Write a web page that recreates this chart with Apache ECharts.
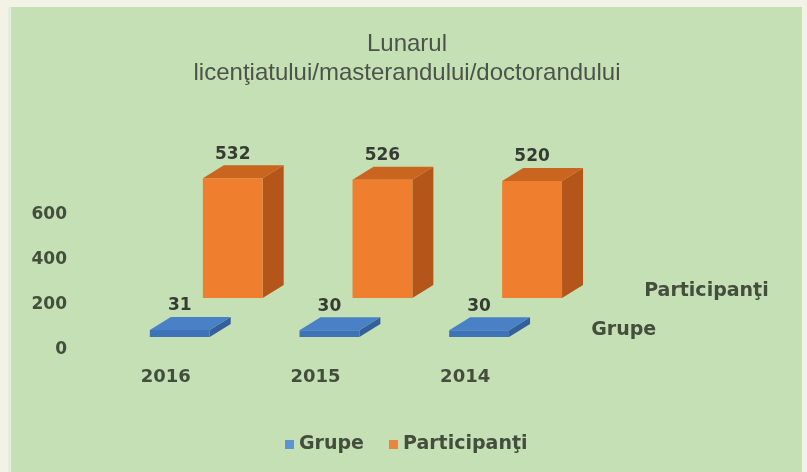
<!DOCTYPE html>
<html>
<head>
<meta charset="utf-8">
<style>
  html, body { margin: 0; padding: 0; background: #f2f3e6; }
  #chart { width: 807px; height: 472px; }
</style>
<script src="https://cdn.jsdelivr.net/npm/echarts@6/dist/echarts.min.js"></script>
</head>
<body>
<div id="chart"></div>
<script>
// Chart data
const titleLines = ['Lunarul', 'licenţiatului/masterandului/doctorandului'];
const years = ['2016', '2015', '2014'];
const seriesNames = ['Grupe', 'Participanţi'];
const grupe = [31, 30, 30];
const participanti = [532, 526, 520];
const valueTicks = { min: 0, max: 600, interval: 200 };

// Visual settings for the pseudo-3D columns
const BOLD_FONT = '"DejaVu Sans", sans-serif';
const TEXT_COLOR = '#434e3d';
const DEPTH_DX = 21;   // oblique depth of each box
const DEPTH_DY = -13;
const rows = [
  { offX: -16, offY: -13, front: '#3f73b8', top: '#4a80c6', side: '#335f9a', legend: '#5b93d3' },
  { offX: 37, offY: -52, front: '#ef7e2e', top: '#c9651f', side: '#b4561a', legend: '#e9863c' }
];

function makeRender(rowIdx, name) {
  const st = rows[rowIdx];
  return function (params, api) {
    const idx = api.value(0);
    const base = api.coord([idx, 0]);
    const top = api.coord([idx, api.value(1)]);
    const band = api.size([1, 0])[0];
    const w = band * 0.4;
    const h = base[1] - top[1];
    const left = base[0] + st.offX;
    const by = base[1] + st.offY;
    const ty = by - h;
    const children = [
      { type: 'polygon', shape: { points: [[left + w, by], [left + w, ty], [left + w + DEPTH_DX, ty + DEPTH_DY], [left + w + DEPTH_DX, by + DEPTH_DY]] }, style: { fill: st.side } },
      { type: 'polygon', shape: { points: [[left, ty], [left + w, ty], [left + w + DEPTH_DX, ty + DEPTH_DY], [left + DEPTH_DX, ty + DEPTH_DY]] }, style: { fill: st.top } },
      { type: 'rect', shape: { x: left, y: ty, width: w, height: Math.max(h, 0.5) }, style: { fill: st.front } },
      { type: 'text', x: left + w / 2, y: ty + DEPTH_DY - 11, style: { text: String(api.value(1)), fill: '#363c33', font: 'bold 17px ' + BOLD_FONT, align: 'center', verticalAlign: 'middle' } }
    ];
    if (params.dataIndex === years.length - 1) {
      children.push({ type: 'text', x: left + 142, y: by - 7, style: { text: name, fill: TEXT_COLOR, font: 'bold 19px ' + BOLD_FONT, align: 'left', verticalAlign: 'middle' } });
    }
    return { type: 'group', children: children };
  };
}

const chart = echarts.init(document.getElementById('chart'));
chart.setOption({
  backgroundColor: '#f2f3e6',
  animation: false,
  graphic: [
    { type: 'rect', left: 8, top: 7, shape: { width: 794, height: 465 }, style: { fill: '#c6e0b5' }, z: -10 },
    { type: 'rect', left: 8, top: 7, shape: { width: 3, height: 465 }, style: { fill: '#e4eedb' }, z: -9 },
    { type: 'text', x: 407, y: 44, style: { text: titleLines[0], font: '24px "Liberation Sans", Arial, sans-serif', fill: '#4c5349', align: 'center', verticalAlign: 'middle' }, z: 5 },
    { type: 'text', x: 407, y: 73, style: { text: titleLines[1], font: '24px "Liberation Sans", Arial, sans-serif', fill: '#4c5349', align: 'center', verticalAlign: 'middle' }, z: 5 }
  ],
  legend: {
    data: seriesNames,
    left: 280,
    top: 430,
    icon: 'rect',
    itemWidth: 9,
    itemHeight: 9,
    itemGap: 25,
    textStyle: { color: TEXT_COLOR, fontFamily: BOLD_FONT, fontWeight: 'bold', fontSize: 19 }
  },
  grid: { left: 91, width: 449, top: 215, bottom: 122, containLabel: false },
  xAxis: {
    type: 'category',
    data: years,
    axisLine: { show: false },
    axisTick: { show: false },
    axisLabel: { margin: 18, color: TEXT_COLOR, fontFamily: BOLD_FONT, fontWeight: 'bold', fontSize: 18 }
  },
  yAxis: {
    type: 'value',
    min: valueTicks.min,
    max: valueTicks.max,
    interval: valueTicks.interval,
    axisLine: { show: false },
    axisTick: { show: false },
    splitLine: { show: false },
    axisLabel: { margin: 24, color: TEXT_COLOR, fontFamily: BOLD_FONT, fontWeight: 'bold', fontSize: 17 }
  },
  series: [
    {
      name: seriesNames[0],
      type: 'custom',
      z: 3,
      itemStyle: { color: rows[0].legend },
      renderItem: makeRender(0, seriesNames[0]),
      encode: { x: 0, y: 1 },
      data: grupe.map((v, i) => [i, v])
    },
    {
      name: seriesNames[1],
      type: 'custom',
      z: 2,
      itemStyle: { color: rows[1].legend },
      renderItem: makeRender(1, seriesNames[1]),
      encode: { x: 0, y: 1 },
      data: participanti.map((v, i) => [i, v])
    }
  ]
});
</script>
</body>
</html>
